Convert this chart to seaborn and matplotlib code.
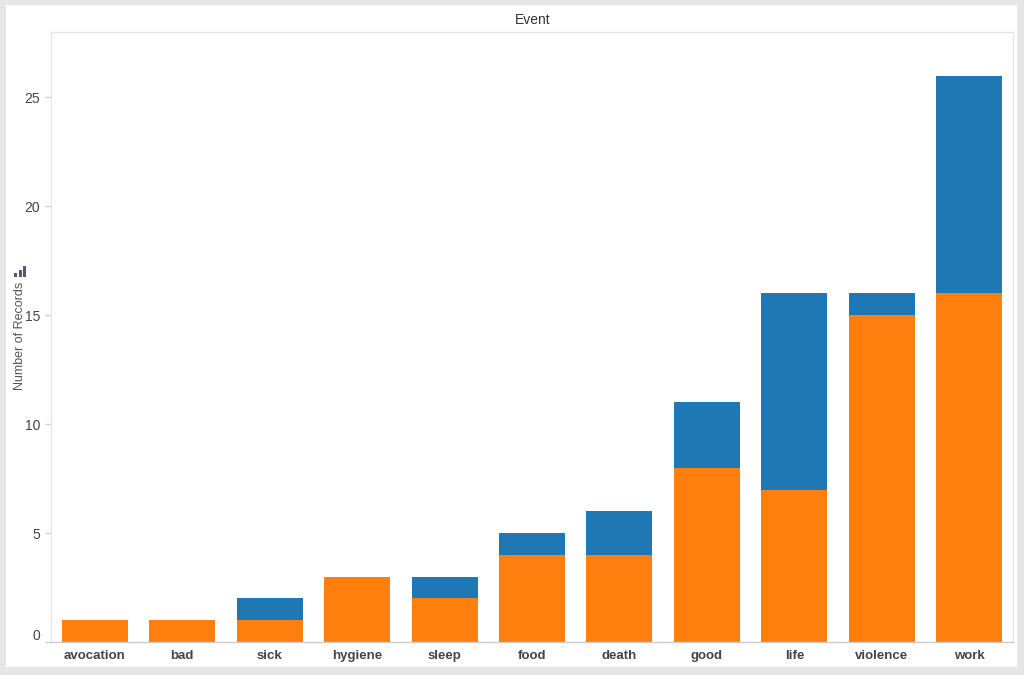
import matplotlib
matplotlib.use("Agg")
import matplotlib.pyplot as plt
import matplotlib.patches as mpatches
import matplotlib.transforms as mtransforms
import seaborn as sns
import pandas as pd
import numpy as np

categories = ["avocation", "bad", "sick", "hygiene", "sleep", "food", "death",
              "good", "life", "violence", "work"]
orange_values = [1, 1, 1, 3, 2, 4, 4, 8, 7, 15, 16]
blue_values = [0, 0, 1, 0, 1, 1, 2, 3, 9, 1, 10]
y_ticks = [0, 5, 10, 15, 20, 25]

BLUE = "#1f77b4"
ORANGE = "#ff7f0e"

sns.set_theme(style="white")
plt.rcParams["font.family"] = ["Liberation Sans", "DejaVu Sans"]

W, H = 1024, 675
fig = plt.figure(figsize=(W / 100, H / 100), dpi=100)
fig.patch.set_facecolor("#e6e6e6")
fig.patches.append(mpatches.Rectangle((6 / W, 1 - 667 / H), 1011 / W, 662 / H,
                                      transform=fig.transFigure, facecolor="white",
                                      edgecolor="none", zorder=-10))

ax = fig.add_axes([51 / W, 1 - 642 / H, (1013 - 51) / W, (642 - 32) / H])
ax.set_facecolor("white")

df = pd.DataFrame({
    "Event": categories,
    "total": [o + b for o, b in zip(orange_values, blue_values)],
    "orange": orange_values,
})

sns.barplot(data=df, x="Event", y="total", color=BLUE, width=0.755,
            saturation=1, ax=ax, edgecolor="none")
sns.barplot(data=df, x="Event", y="orange", color=ORANGE, width=0.755,
            saturation=1, ax=ax, edgecolor="none")

ax.set_xlim(-0.5, len(categories) - 0.5)
ax.set_ylim(0, 28)
ax.set_yticks(y_ticks)
ax.set_yticklabels([str(t) for t in y_ticks], fontsize=10, color="#444444")
ax.set_xticks(range(len(categories)))
ax.set_xticklabels(categories, fontsize=9.5, fontweight="bold", color="#444444")
ax.set_xticks(np.arange(0.5, len(categories) - 0.5, 1), minor=True)

ax.tick_params(axis="x", which="major", length=0, pad=6)
ax.tick_params(axis="x", which="minor", length=5, color="#d0d0d0", width=1, direction="out")
ax.tick_params(axis="y", which="major", length=4, color="#d0d0d0", width=1,
               direction="out", pad=4, left=True)

# Shift the zero label up slightly (as in the reference)
for lbl in ax.get_yticklabels():
    if lbl.get_text() == "0":
        lbl.set_transform(lbl.get_transform() + mtransforms.ScaledTranslation(0, 8 / 100, fig.dpi_scale_trans))

for side in ["top", "left", "right"]:
    ax.spines[side].set_color("#e6e6e6")
    ax.spines[side].set_linewidth(1)
ax.spines["bottom"].set_color("#cccccc")
ax.spines["bottom"].set_linewidth(1)

ax.set_xlabel("")
ax.set_ylabel("")

fig.text(533 / W, 1 - 20 / H, "Event", ha="center", va="center", fontsize=10, color="#333333")
fig.text(20 / W, 1 - 336 / H, "Number of Records", ha="center", va="center",
         rotation=90, fontsize=9, color="#555555")

# small bar icon above the axis title
for i, hgt in enumerate([4, 7, 11]):
    fig.patches.append(mpatches.Rectangle(((14 + i * 4.5) / W, 1 - 277 / H), 3 / W, hgt / H,
                                          transform=fig.transFigure, facecolor="#4e5d6c",
                                          edgecolor="none"))

fig.savefig("out.png", dpi=100, facecolor=fig.get_facecolor())
